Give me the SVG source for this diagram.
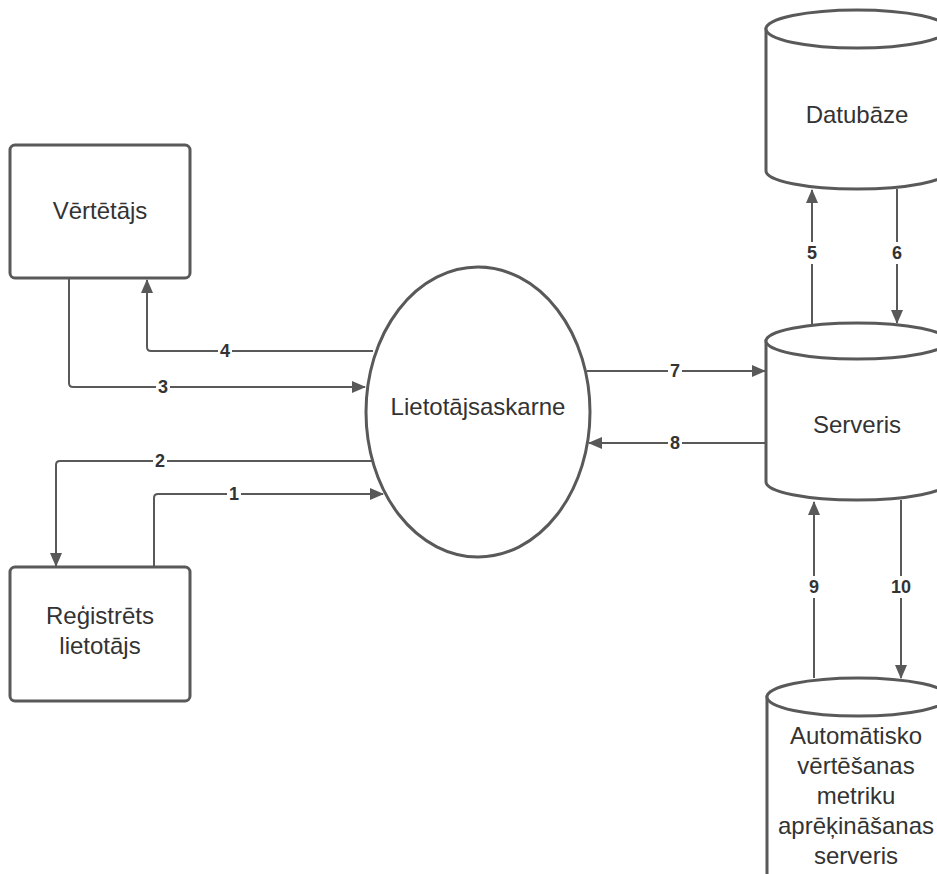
<svg xmlns="http://www.w3.org/2000/svg" width="937" height="874" viewBox="0 0 937 874">
<defs>
<marker id="ah" markerWidth="14" markerHeight="12" viewBox="0 0 14 12" refX="13" refY="6" orient="auto" markerUnits="userSpaceOnUse">
<path d="M0,0 L14,6 L0,12 Z" fill="#595959"/>
</marker>
</defs>
<style>
.shape{fill:#ffffff;stroke:#595959;stroke-width:3}
.conn{fill:none;stroke:#595959;stroke-width:2;marker-end:url(#ah)}
.txt{font-family:"Liberation Sans",Arial,sans-serif;font-size:24px;fill:#333333;text-anchor:middle}
.lbl{font-family:"Liberation Sans",Arial,sans-serif;font-size:18px;font-weight:bold;fill:#333333;text-anchor:middle;dominant-baseline:central}
.lblbg{fill:#ffffff}
</style>
<rect width="937" height="874" fill="#ffffff"/>

<g id="connectors">
<path class="conn" d="M373,351 H151 Q147,351 147,347 V280"/>
<path class="conn" d="M69,278 V383 Q69,387 73,387 H365"/>
<path class="conn" d="M372,461 H60 Q56,461 56,465 V566"/>
<path class="conn" d="M154,567 V498 Q154,494 158,494 H383"/>
<path class="conn" d="M587,371 H765"/>
<path class="conn" d="M766,443 H589"/>
<path class="conn" d="M812,324 V190"/>
<path class="conn" d="M897,189 V323"/>
<path class="conn" d="M814,678 V502"/>
<path class="conn" d="M901,500 V678"/>
<rect class="lblbg" x="218" y="342" width="14" height="18"/>
<text class="lbl" x="225" y="351">4</text>
<rect class="lblbg" x="156" y="378" width="14" height="18"/>
<text class="lbl" x="163" y="387">3</text>
<rect class="lblbg" x="153" y="452" width="14" height="18"/>
<text class="lbl" x="160" y="461">2</text>
<rect class="lblbg" x="227" y="485" width="14" height="18"/>
<text class="lbl" x="234" y="494">1</text>
<rect class="lblbg" x="668" y="362" width="14" height="18"/>
<text class="lbl" x="675" y="371">7</text>
<rect class="lblbg" x="668" y="434" width="14" height="18"/>
<text class="lbl" x="675" y="443">8</text>
<rect class="lblbg" x="804" y="242" width="16" height="22"/>
<text class="lbl" x="812" y="253">5</text>
<rect class="lblbg" x="889" y="242" width="16" height="22"/>
<text class="lbl" x="897" y="253">6</text>
<rect class="lblbg" x="806" y="576" width="16" height="22"/>
<text class="lbl" x="814" y="587">9</text>
<rect class="lblbg" x="888" y="576" width="26" height="22"/>
<text class="lbl" x="901" y="587">10</text>
</g>

<g id="vertetajs">
<rect class="shape" x="10" y="145" width="180" height="133" rx="5"/>
<text class="txt" x="100" y="219">Vērtētājs</text>
</g>

<g id="registrets">
<rect class="shape" x="10" y="567" width="180" height="134" rx="5"/>
<text class="txt" x="100" y="624">Reģistrēts</text>
<text class="txt" x="100" y="654">lietotājs</text>
</g>

<g id="lietotajsaskarne">
<ellipse class="shape" cx="478" cy="412" rx="112" ry="145"/>
<text class="txt" x="478" y="415">Lietotājsaskarne</text>
</g>

<g id="datubaze">
<path class="shape" d="M766,29 V171 A91,18 0 0 0 948,171 V29 Z"/>
<ellipse class="shape" cx="857" cy="29" rx="91" ry="19"/>
<text class="txt" x="857" y="123">Datubāze</text>
</g>

<g id="serveris">
<path class="shape" d="M766,341 V482 A91,18 0 0 0 948,482 V341 Z"/>
<ellipse class="shape" cx="857" cy="341" rx="91" ry="18"/>
<text class="txt" x="857" y="433">Serveris</text>
</g>

<g id="automatisko">
<path class="shape" d="M767,697 V880 A91,18 0 0 0 949,880 V697 Z"/>
<ellipse class="shape" cx="858" cy="697" rx="91" ry="19"/>
<text class="txt" x="856" y="744">Automātisko</text>
<text class="txt" x="856" y="774">vērtēšanas</text>
<text class="txt" x="856" y="804">metriku</text>
<text class="txt" x="856" y="834">aprēķināšanas</text>
<text class="txt" x="856" y="864">serveris</text>
</g>
</svg>
